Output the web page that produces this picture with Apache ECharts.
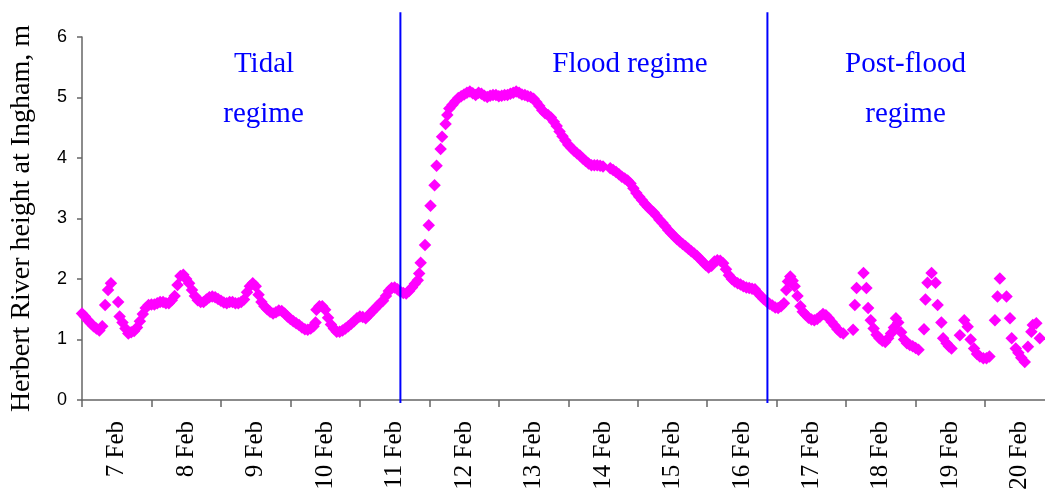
<!DOCTYPE html>
<html>
<head>
<meta charset="utf-8">
<script src="https://cdn.jsdelivr.net/npm/echarts@6/dist/echarts.min.js"></script>
<style>
html,body{margin:0;padding:0;background:#fff;}
#chart{width:1045px;height:493px;}
</style>
</head>
<body>
<div id="chart"></div>
<script>
// Time in hours from 7 Feb 00:00, and river height (m)
var hours = [
0,1,2,3,4,5,6,7,8,9,10,12.5,13,14,15,16,17,18,19,20,21,22,23,24,25,26,27,28,29,30,
31,32,33,34,35,36,37,38,39,40,41,42,43,44,45,46,47,48,49,50,51,52,53,54,55,56,57,58,59,60,
61,62,63,64,65,66,67,68,69,70,71,72,73,74,75,76,77,78,79,80,80.7,81,82,83,84,85,86,87,88,89,
90,91,92,93,94,95,96,97,98,99,100,101,102,103,104,105,106,107,108,109,110,111,112,113,114,115,116,
116.5,117,118.5,119.8,120.4,121.8,122.5,123.9,124.4,125.6,126.2,126.9,
128,129,130,131,132,133,134,135,136,137,138,139,140,141,142,143,144,145,146,147,148,149,150,
151,152,153,154,155,156,157,158,159,160,161,162,163,164,165,166,167,168,169,170,171,172,173,
174,175,176,177,178,179,180,
182.5,183.5,184.5,185.5,186.5,187.5,188.5,189.5,190.5,191.5,192.5,193.5,194.5,195.5,196.5,197.5,
198.5,199.5,200.5,201.5,202.5,203.5,204.5,205.5,206.5,207.5,208.5,209.5,210.5,211.5,212.5,213.5,
214.5,215.5,216.5,217.5,218.5,219.5,220.5,221.5,222.5,223.5,224.5,225.5,226.5,227.5,228.5,229.5,
230.5,231.5,232.5,233.5,234.5,235.5,236.5,237.5,238.5,239.5,240.5,241.5,242.5,
243.3,243.9,244.7,245.5,246.2,247.2,248.2,249,250,251,252,253,254,255,256,257,258,259,260,261,262,263,
266.4,267,267.6,270,271,271.6,272.5,273.5,274.5,275.5,276.5,277.5,278.5,279.5,280.5,281.2,282,283,
284,285,286,287,288,289,
290.9,291.4,292.1,293.5,294.9,295.6,296.9,297.5,298.7,299.5,300.4,
303.3,304.8,306,307,308.2,309.2,310.2,311.4,312.5,313.5,
315.4,316.3,317.1,319.4,320.6,321.2,322.6,323.5,324.5,325.7,326.8,328,328.5,329.7,330.9
];
var heights = [
1.43,1.38,1.32,1.27,1.22,1.18,1.15,1.22,1.57,1.82,1.93,1.62,1.38,1.28,1.18,1.10,1.12,1.14,1.20,1.30,1.42,1.52,1.57,1.58,1.58,1.60,1.62,1.62,1.60,1.60,
1.65,1.72,1.90,2.05,2.07,2.00,1.93,1.82,1.72,1.65,1.62,1.62,1.66,1.70,1.71,1.70,1.67,1.64,1.61,1.60,1.62,1.62,1.60,1.60,1.62,1.66,1.78,1.88,1.93,1.88,
1.74,1.62,1.55,1.50,1.46,1.43,1.45,1.48,1.47,1.43,1.38,1.34,1.30,1.27,1.24,1.20,1.17,1.16,1.18,1.22,1.28,1.49,1.55,1.55,1.49,1.36,1.25,1.18,1.13,1.13,
1.15,1.18,1.22,1.26,1.30,1.35,1.38,1.37,1.35,1.40,1.45,1.50,1.55,1.60,1.64,1.72,1.80,1.85,1.86,1.83,1.79,1.77,1.76,1.80,1.86,1.92,1.98,
2.09,2.27,2.56,2.89,3.21,3.55,3.87,4.15,4.35,4.56,4.71,4.82,
4.88,4.94,4.99,5.02,5.05,5.08,5.10,5.07,5.04,5.08,5.06,5.03,5.01,5.03,5.04,5.04,5.02,5.03,5.04,5.04,5.06,5.08,5.10,
5.08,5.05,5.04,5.02,5.01,4.98,4.92,4.86,4.79,4.74,4.71,4.67,4.60,4.53,4.44,4.36,4.29,4.22,4.17,4.12,4.08,4.04,3.99,
3.95,3.91,3.88,3.88,3.88,3.87,3.86,
3.83,3.80,3.77,3.73,3.69,3.66,3.63,3.58,3.50,3.42,3.36,3.30,3.24,3.19,3.14,3.10,
3.04,2.98,2.93,2.87,2.81,2.76,2.71,2.66,2.62,2.58,2.54,2.50,2.46,2.42,2.38,2.33,
2.28,2.23,2.19,2.22,2.29,2.31,2.30,2.26,2.16,2.06,2.00,1.96,1.93,1.91,1.88,1.86,
1.85,1.84,1.83,1.77,1.72,1.67,1.63,1.59,1.56,1.53,1.52,1.55,1.60,
1.82,1.96,2.04,1.97,1.88,1.72,1.55,1.46,1.41,1.36,1.33,1.32,1.34,1.38,1.42,1.40,1.35,1.29,1.23,1.17,1.12,1.10,
1.16,1.57,1.85,2.10,1.85,1.52,1.32,1.18,1.08,1.02,0.98,0.96,1.02,1.10,1.20,1.35,1.28,1.12,
1.00,0.94,0.91,0.89,0.86,0.83,
1.17,1.66,1.94,2.10,1.94,1.57,1.28,1.02,0.94,0.89,0.85,
1.07,1.32,1.21,1.00,0.85,0.76,0.72,0.69,0.69,0.72,
1.32,1.71,2.01,1.71,1.35,1.02,0.85,0.78,0.70,0.63,0.88,1.13,1.24,1.27,1.02
];
var dateLabels = ['7 Feb','8 Feb','9 Feb','10 Feb','11 Feb','12 Feb','13 Feb','14 Feb','15 Feb','16 Feb','17 Feb','18 Feb','19 Feb','20 Feb'];
var dayTicks = [0,24,48,72,96,120,144,168,192,216,240,264,288,312];
var labelHours = [12,36,60,84,108,132,156,180,204,228,252,276,300,324];
var regimeBounds = [110, 236.8];
var yTicks = [0,1,2,3,4,5,6];

var points = hours.map(function(h, i){ return [h, heights[i]]; });

var chart = echarts.init(document.getElementById('chart'), null, {renderer:'canvas'});
var serif = '"Liberation Serif","Times New Roman",serif';
var textBlue = '#0000FF';
chart.setOption({
  animation:false,
  backgroundColor:'#fff',
  grid:{left:82, right:0, top:37, bottom:93, containLabel:false},
  xAxis:{
    type:'value', min:0, max:332.7,
    axisLine:{show:true, lineStyle:{color:'#666', width:1.5}},
    axisTick:{show:true, length:7, inside:false, customValues:dayTicks, lineStyle:{color:'#666', width:1.5}},
    axisLabel:{show:true, customValues:labelHours, rotate:90, margin:21,
      fontFamily:serif, fontSize:25, color:'#000',
      formatter:function(v){ var i = labelHours.indexOf(v); return i>=0 ? dateLabels[i] : ''; }},
    splitLine:{show:false}
  },
  yAxis:{
    type:'value', min:0, max:6, interval:1,
    name:'Herbert River height at Ingham, m', nameLocation:'middle', nameGap:46,
    nameTextStyle:{fontFamily:serif, fontSize:28, color:'#000'},
    axisLine:{show:true, lineStyle:{color:'#666', width:1.5}},
    axisTick:{show:true, length:5, inside:false, lineStyle:{color:'#666', width:1.5}},
    axisLabel:{margin:15, fontFamily:'"Liberation Sans",Arial,sans-serif', fontSize:18, color:'#000',
      formatter:function(v){ return yTicks.indexOf(v)>=0 ? String(v) : ''; }},
    splitLine:{show:false}
  },
  series:[
    {
      type:'scatter', data:points, symbol:'diamond', symbolSize:12.5,
      itemStyle:{color:'#FF00FF', opacity:1}, z:3
    },
    {
      type:'custom', clip:false, z:4,
      data:regimeBounds.map(function(b){ return [b, 0]; }),
      renderItem:function(params, api){
        var x = api.value(0);
        var p1 = api.coord([x, 6.41]);
        var p2 = api.coord([x, -0.05]);
        return {type:'line', shape:{x1:p1[0], y1:p1[1], x2:p2[0], y2:p2[1]},
          style:{stroke:'#0000FF', lineWidth:2}};
      }
    }
  ],
  graphic:[
    {type:'text', x:264, y:64, style:{text:'Tidal', font:'29px '+serif, fill:textBlue, align:'center', verticalAlign:'middle', textAlign:'center', textVerticalAlign:'middle'}},
    {type:'text', x:263.5, y:114, style:{text:'regime', font:'29px '+serif, fill:textBlue, align:'center', verticalAlign:'middle', textAlign:'center', textVerticalAlign:'middle'}},
    {type:'text', x:630, y:64, style:{text:'Flood regime', font:'29px '+serif, fill:textBlue, align:'center', verticalAlign:'middle', textAlign:'center', textVerticalAlign:'middle'}},
    {type:'text', x:905.5, y:64, style:{text:'Post-flood', font:'29px '+serif, fill:textBlue, align:'center', verticalAlign:'middle', textAlign:'center', textVerticalAlign:'middle'}},
    {type:'text', x:905.5, y:114, style:{text:'regime', font:'29px '+serif, fill:textBlue, align:'center', verticalAlign:'middle', textAlign:'center', textVerticalAlign:'middle'}}
  ]
});
</script>
</body>
</html>
